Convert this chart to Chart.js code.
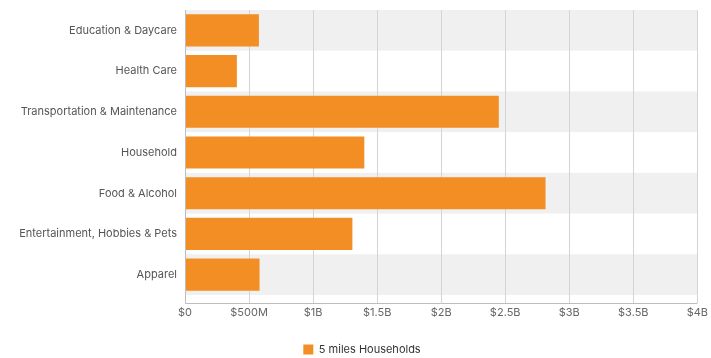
<!DOCTYPE html>
<html>
<head>
<meta charset="utf-8">
<script src="https://cdn.jsdelivr.net/npm/chart.js@4"></script>
<style>
  html, body { margin: 0; padding: 0; background: #ffffff; }
  #wrap { width: 711px; height: 358px; position: relative; }
</style>
</head>
<body>
<div id="wrap"><canvas id="c" width="711" height="358"></canvas></div>
<script>
const categories = [
  "Education & Daycare",
  "Health Care",
  "Transportation & Maintenance",
  "Household",
  "Food & Alcohol",
  "Entertainment, Hobbies & Pets",
  "Apparel"
];
const seriesName = "5 miles Households";
const householdSpending = [577000000, 405000000, 2450000000, 1400000000, 2815000000, 1307000000, 582000000];
const tickLabels = ["$0", "$500M", "$1B", "$1.5B", "$2B", "$2.5B", "$3B", "$3.5B", "$4B"];

const ORANGE = "#F28E23";
const BAND = "#F0F0F0";
const GRID = "#D4D4D4";
const AXIS = "#BDBDBD";

const bandsAndAxes = {
  id: "bandsAndAxes",
  afterLayout(chart) {
    if (chart.legend) {
      chart.legend.left += 8;
      chart.legend.right += 8;
    }
  },
  beforeDraw(chart) {
    const { ctx, chartArea } = chart;
    const y = chart.scales.y;
    const half = (chartArea.bottom - chartArea.top) / categories.length / 2;
    ctx.save();
    ctx.fillStyle = BAND;
    categories.forEach((c, i) => {
      if (i % 2 === 0) {
        const py = y.getPixelForValue(i);
        ctx.fillRect(chartArea.left, py - half, chartArea.right - chartArea.left, half * 2);
      }
    });
    ctx.restore();
  },
  afterDatasetsDraw(chart) {
    const { ctx, chartArea } = chart;
    const ext = 8;
    ctx.save();
    ctx.strokeStyle = AXIS;
    ctx.lineWidth = 1;
    ctx.beginPath();
    const lx = Math.round(chartArea.left) + 0.5;
    const by = Math.round(chartArea.bottom + ext) + 0.5;
    ctx.moveTo(lx, chartArea.top);
    ctx.lineTo(lx, by);
    ctx.lineTo(chartArea.right, by);
    ctx.stroke();
    ctx.restore();
  }
};

new Chart(document.getElementById("c"), {
  type: "bar",
  data: {
    labels: categories,
    datasets: [{
      label: seriesName,
      data: householdSpending,
      backgroundColor: ORANGE,
      borderWidth: 0,
      barPercentage: 0.79,
      categoryPercentage: 1.0
    }]
  },
  options: {
    indexAxis: "y",
    responsive: false,
    animation: false,
    devicePixelRatio: 1,
    layout: { padding: { left: 10, right: 13, top: 10, bottom: -7 } },
    font: { family: "Inter, 'Noto Sans', sans-serif", size: 11 },
    scales: {
      x: {
        min: 0,
        max: 4000000000,
        ticks: {
          stepSize: 500000000,
          color: "#666666",
          font: { family: "Inter, 'Noto Sans', sans-serif", size: 11 },
          padding: 3,
          maxRotation: 0,
          callback: (v, i) => tickLabels[i]
        },
        grid: { color: GRID, drawTicks: true, tickLength: 8, tickColor: GRID },
        border: { display: false },
        afterFit: s => { s.height = 45; }
      },
      y: {
        ticks: {
          color: "#555555",
          font: { family: "Inter, 'Noto Sans', sans-serif", size: 11 },
          padding: 8
        },
        grid: { display: false, drawTicks: false },
        border: { display: false },
        afterFit: s => { s.width = 175; s.paddingTop = 0; s.paddingBottom = 0; }
      }
    },
    plugins: {
      legend: {
        position: "bottom",
        labels: {
          boxWidth: 10,
          boxHeight: 10,
          padding: 4,
          color: "#333333",
          font: { family: "Inter, 'Noto Sans', sans-serif", size: 11 }
        }
      },
      tooltip: { enabled: false }
    }
  },
  plugins: [bandsAndAxes]
});
</script>
</body>
</html>
